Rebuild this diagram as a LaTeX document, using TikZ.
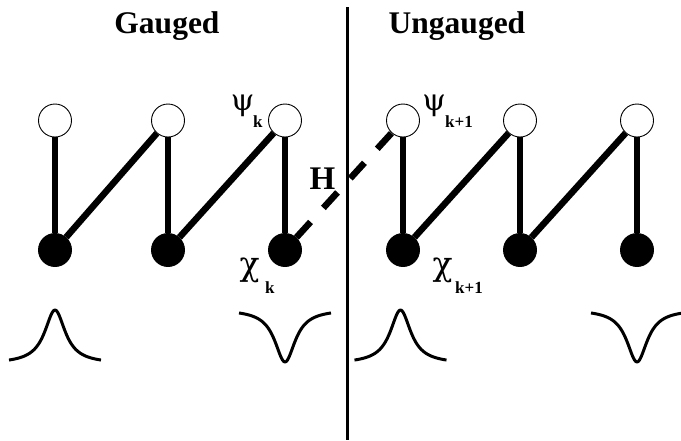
\documentclass[tikz,border=0pt]{standalone}
\usepackage{fontspec}
\setmainfont{Liberation Serif}
\newfontfamily\greekfont{DejaVu Serif}
\usepackage{tikz}
\usetikzlibrary{positioning}

% symbol with a bold index set below it
\newcommand{\sublbl}[2]{\raisebox{-#1}{\fontsize{17}{17}\selectfont\rmfamily\bfseries #2}}

\begin{document}
\begin{tikzpicture}[
  x=1pt, y=-1pt,
  open/.style={draw, line width=0.9pt, fill=white, circle, minimum size=33pt, inner sep=0pt},
  full/.style={draw, line width=0.9pt, fill=black, circle, minimum size=33pt, inner sep=0pt},
  bond/.style={line width=6.5pt},
  hop/.style={line width=6.5pt, dash pattern=on 21pt off 19pt},
  wall/.style={line width=3pt},
  curve/.style={line width=3pt, line join=round},
  title/.style={font=\fontsize{31.5}{33}\selectfont\bfseries, inner sep=0pt, anchor=base},
  psilbl/.style={font=\fontsize{30}{32}\selectfont\greekfont, inner sep=0pt, anchor=base west},
  chilbl/.style={font=\fontsize{33}{35}\selectfont\greekfont, inner sep=0pt, anchor=base west}
]
\useasboundingbox (0,0) rectangle (681,440);

% sites, top row open, bottom row filled
\node[open] (o1) at (55,120.5) {};
\node[open] (o2) at (168,120.5) {};
\node[open] (o3) at (285,120.5) {};
\node[open] (o4) at (403,120.5) {};
\node[open] (o5) at (520,120.5) {};
\node[open] (o6) at (637,120.5) {};

\node[full] (f1) at (55,250) {};
\node[full] (f2) at (168,250) {};
\node[full] (f3) at (285,250) {};
\node[full] (f4) at (403,250) {};
\node[full] (f5) at (520,250) {};
\node[full] (f6) at (637,250) {};

% divider
\coordinate (wtop) at (347,7);
\coordinate (wbot) at (347,440);
\draw[wall] (wtop) -- (wbot);

\node[title] (gauged) at (167,33) {Gauged};
\node[title] (ungauged) at (457,33) {Ungauged};

% bonds
\draw[bond] (o1) -- (f1);
\draw[bond] (o2) -- (f2);
\draw[bond] (o3) -- (f3);
\draw[bond] (o4) -- (f4);
\draw[bond] (o5) -- (f5);
\draw[bond] (o6) -- (f6);
\draw[bond] (f1) -- (o2);
\draw[bond] (f2) -- (o3);
\draw[bond] (f4) -- (o5);
\draw[bond] (f5) -- (o6);
\draw[hop] (f3) -- (o4);

\node[font=\fontsize{33}{35}\selectfont\bfseries, inner sep=0pt] (h) at (322.5,179) {H};

% labels
\node[psilbl] (psik) at (232,110) {\makebox[21pt]{ψ}\sublbl{17pt}{k}};
\node[psilbl] (psik1) at (423,110) {\makebox[22pt]{ψ}\sublbl{17pt}{k+1}};
\node[chilbl] (chik) at (237,275) {\makebox[28pt][l]{\makebox[25pt]{χ}}\sublbl{18pt}{k}};
\node[chilbl] (chik1) at (430,275) {\makebox[25pt]{χ}\sublbl{18pt}{k+1}};

% wave packets
\draw[curve, shift={(55,360)}] plot[domain=-46:46, samples=90, smooth] (\x, {-53.7*(1/(1+(\x/12.5)^2)-0.069)});
\draw[curve, shift={(285,313)}] plot[domain=-46:46, samples=90, smooth] (\x, {52.6*(1/(1+(\x/12.5)^2)-0.069)});
\draw[curve, shift={(400.5,360)}] plot[domain=-46:46, samples=90, smooth] (\x, {-53.7*(1/(1+(\x/12.5)^2)-0.069)});
\draw[curve, shift={(637,313)}] plot[domain=-46:46, samples=90, smooth] (\x, {52.6*(1/(1+(\x/12.5)^2)-0.069)});

\end{tikzpicture}
\end{document}
